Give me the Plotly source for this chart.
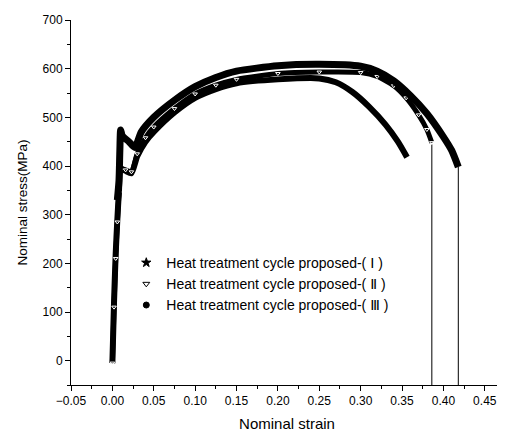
import plotly.graph_objects as go

# Curve I (stars)
strain_1 = [0.0, 0.002, 0.004, 0.006, 0.008, 0.010, 0.016, 0.023, 0.030, 0.040, 0.050, 0.075, 0.100, 0.125, 0.150,
            0.200, 0.250, 0.270, 0.290, 0.310, 0.330, 0.345, 0.356]
stress_1 = [-5, 120, 220, 290, 350, 395, 390, 385, 420, 450, 470, 510, 540, 558, 570,
            578, 580, 572, 552, 522, 485, 450, 418]

# Curve II (open triangles)
strain_2 = [0.0, 0.002, 0.004, 0.006, 0.008, 0.010, 0.016, 0.023, 0.030, 0.040, 0.050, 0.075, 0.100, 0.125, 0.150,
            0.200, 0.250, 0.300, 0.320, 0.340, 0.355, 0.370, 0.380, 0.386]
stress_2 = [-5, 110, 210, 285, 345, 392, 392, 388, 425, 458, 480, 518, 548, 566, 578,
            590, 593, 592, 584, 565, 540, 505, 475, 448]

# Curve III (filled circles)
strain_3 = [0.006, 0.008, 0.009, 0.010, 0.012, 0.020, 0.027, 0.035, 0.050, 0.075, 0.100, 0.125, 0.150,
            0.200, 0.250, 0.300, 0.320, 0.340, 0.360, 0.380, 0.400, 0.410, 0.418]
stress_3 = [330, 370, 430, 474, 462, 450, 438, 470, 500, 535, 563, 582, 595,
            606, 609, 605, 595, 575, 545, 508, 460, 432, 398]

# Fracture drops (vertical lines down to the axis)
fracture_strain = [0.386, 0.418]
fracture_stress = [445, 398]
axis_bottom = -50

legend_names = ["Heat treatment cycle proposed-( Ⅰ )",
                "Heat treatment cycle proposed-( Ⅱ )",
                "Heat treatment cycle proposed-( Ⅲ )"]

fig = go.Figure()

# fracture lines
for s, st in zip(fracture_strain, fracture_stress):
    fig.add_trace(go.Scatter(x=[s, s], y=[st, axis_bottom], mode="lines",
                             line=dict(color="black", width=1), showlegend=False, hoverinfo="skip"))

fig.add_trace(go.Scatter(x=strain_1, y=stress_1, mode="lines",
                         line=dict(color="black", width=6, shape="spline", smoothing=0.6),
                         showlegend=False))
fig.add_trace(go.Scatter(x=strain_2, y=stress_2, mode="lines+markers",
                         line=dict(color="black", width=5, shape="spline", smoothing=0.6),
                         marker=dict(symbol="triangle-down-open", size=4, color="white",
                                     line=dict(color="black", width=1)),
                         showlegend=False))
fig.add_trace(go.Scatter(x=strain_3, y=stress_3, mode="lines",
                         line=dict(color="black", width=7, shape="spline", smoothing=0.6),
                         showlegend=False))

# legend entries
syms = ["star", "triangle-down-open", "circle"]
sizes = [7, 6, 6]
for name, sym, sz in zip(legend_names, syms, sizes):
    fig.add_trace(go.Scatter(x=[None], y=[None], mode="markers", name=name,
                             marker=dict(symbol=sym, size=sz, color="black",
                                         line=dict(color="black", width=1))))

font_family = "Arial, Liberation Sans, DejaVu Sans"

# The page body has an 8px margin; size the figure so it fills the 505x432 window.
fig.update_layout(
    width=497, height=424,
    margin=dict(l=63, r=2, t=12, b=47),
    paper_bgcolor="white", plot_bgcolor="white",
    font=dict(family=font_family, color="black", size=12),
    showlegend=True,
    legend=dict(x=0.128, y=0.378, xanchor="left", yanchor="top",
                bgcolor="rgba(0,0,0,0)", font=dict(size=14, family=font_family),
                tracegroupgap=0),
    xaxis=dict(range=[-0.05, 0.472], tickmode="linear", tick0=-0.05, dtick=0.05,
               tickformat=".2f", automargin=False,
               showgrid=False, zeroline=False, showline=True, linecolor="black", linewidth=1,
               ticks="outside", ticklen=5, tickcolor="black",
               minor=dict(dtick=0.025, tick0=-0.05, ticks="outside", ticklen=3, tickcolor="black"),
               title=dict(text="Nominal strain", font=dict(size=15), standoff=12),
               tickfont=dict(size=12)),
    yaxis=dict(range=[-50, 700], tickmode="linear", tick0=0, dtick=100, automargin=False,
               showgrid=False, zeroline=False, showline=True, linecolor="black", linewidth=1,
               ticks="outside", ticklen=5, tickcolor="black",
               minor=dict(dtick=50, tick0=-50, ticks="outside", ticklen=3, tickcolor="black"),
               title=dict(text="Nominal stress(MPa)", font=dict(size=13.5), standoff=11),
               tickfont=dict(size=12)),
)

fig.write_html("out.html")
